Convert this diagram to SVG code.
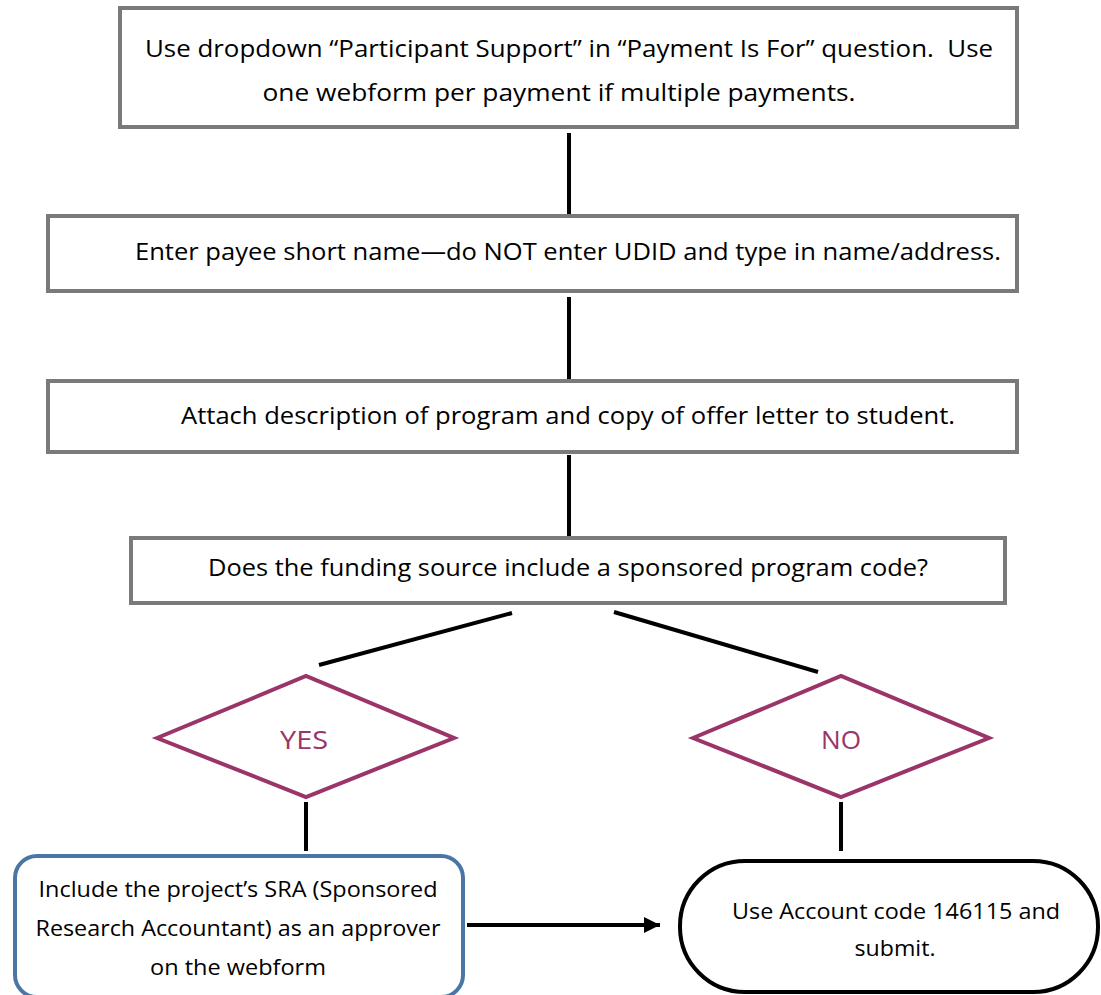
<svg xmlns="http://www.w3.org/2000/svg" width="1101" height="995" viewBox="0 0 1101 995">
<defs>
<style>
.box{fill:#fff;stroke:#7a7a7a;stroke-width:4}
.dia{fill:#fff;stroke:#9b3468;stroke-width:4}
.t{font-family:"Open Sans","Liberation Sans",sans-serif;font-size:23px;fill:#000;text-anchor:middle}
.s{font-size:22px}
.yn{font-family:"Open Sans","Liberation Sans",sans-serif;font-size:25px;fill:#9b3468;text-anchor:middle}
.c{stroke:#000;stroke-width:4;fill:none}
</style>
<marker id="ah" viewBox="0 0 10 10" refX="10" refY="5" markerWidth="4" markerHeight="4" orient="auto" markerUnits="strokeWidth">
<path d="M0,0 L10,5 L0,10 z" fill="#000"/>
</marker>
</defs>
<rect width="1101" height="995" fill="#fff"/>
<g id="connectors">
<line class="c" x1="569" y1="133" x2="569" y2="214"/>
<line class="c" x1="569" y1="297" x2="569" y2="380"/>
<line class="c" x1="569" y1="455" x2="569" y2="537"/>
<line class="c" x1="512" y1="613" x2="319" y2="665"/>
<line class="c" x1="614" y1="612" x2="818" y2="672"/>
<line class="c" x1="306" y1="802" x2="306" y2="851"/>
<line class="c" x1="841" y1="802" x2="841" y2="851"/>
<line class="c" x1="467" y1="925" x2="660" y2="925" marker-end="url(#ah)"/>
</g>
<g id="n1">
<rect class="box" x="120" y="8" width="897" height="119"/>
<text class="t" x="569" y="57" textLength="848" lengthAdjust="spacingAndGlyphs" xml:space="preserve">Use dropdown “Participant Support” in “Payment Is For” question.  Use</text>
<text class="t" x="559" y="101" textLength="593" lengthAdjust="spacingAndGlyphs">one webform per payment if multiple payments.</text>
</g>
<g id="n2">
<rect class="box" x="48" y="216" width="969" height="75"/>
<text class="t" x="568" y="260" textLength="866" lengthAdjust="spacingAndGlyphs">Enter payee short name—do NOT enter UDID and type in name/address.</text>
</g>
<g id="n3">
<rect class="box" x="48" y="381" width="969" height="71"/>
<text class="t" x="568" y="424" textLength="774" lengthAdjust="spacingAndGlyphs">Attach description of program and copy of offer letter to student.</text>
</g>
<g id="n4">
<rect class="box" x="131" y="538" width="874" height="65"/>
<text class="t" x="568" y="576" textLength="720" lengthAdjust="spacingAndGlyphs">Does the funding source include a sponsored program code?</text>
</g>
<g id="yes">
<polygon class="dia" points="157,738 306,676 454,738 306,797"/>
<text class="yn" x="304" y="749" textLength="48" lengthAdjust="spacingAndGlyphs">YES</text>
</g>
<g id="no">
<polygon class="dia" points="693,738 841,676 989,738 841,797"/>
<text class="yn" x="841" y="749" textLength="40" lengthAdjust="spacingAndGlyphs">NO</text>
</g>
<g id="sra">
<rect x="15" y="856" width="448" height="141" rx="22" fill="#fff" stroke="#4a76a6" stroke-width="4"/>
<text class="t s" x="238" y="897" textLength="399" lengthAdjust="spacingAndGlyphs">Include the project’s SRA (Sponsored</text>
<text class="t s" x="238" y="936" textLength="405" lengthAdjust="spacingAndGlyphs">Research Accountant) as an approver</text>
<text class="t s" x="238" y="975" textLength="176" lengthAdjust="spacingAndGlyphs">on the webform</text>
</g>
<g id="account">
<rect x="680" y="861" width="418" height="131" rx="65" fill="#fff" stroke="#000" stroke-width="4"/>
<text class="t s" x="896" y="919" textLength="328" lengthAdjust="spacingAndGlyphs">Use Account code 146115 and</text>
<text class="t s" x="895" y="956" textLength="81" lengthAdjust="spacingAndGlyphs">submit.</text>
</g>
</svg>
